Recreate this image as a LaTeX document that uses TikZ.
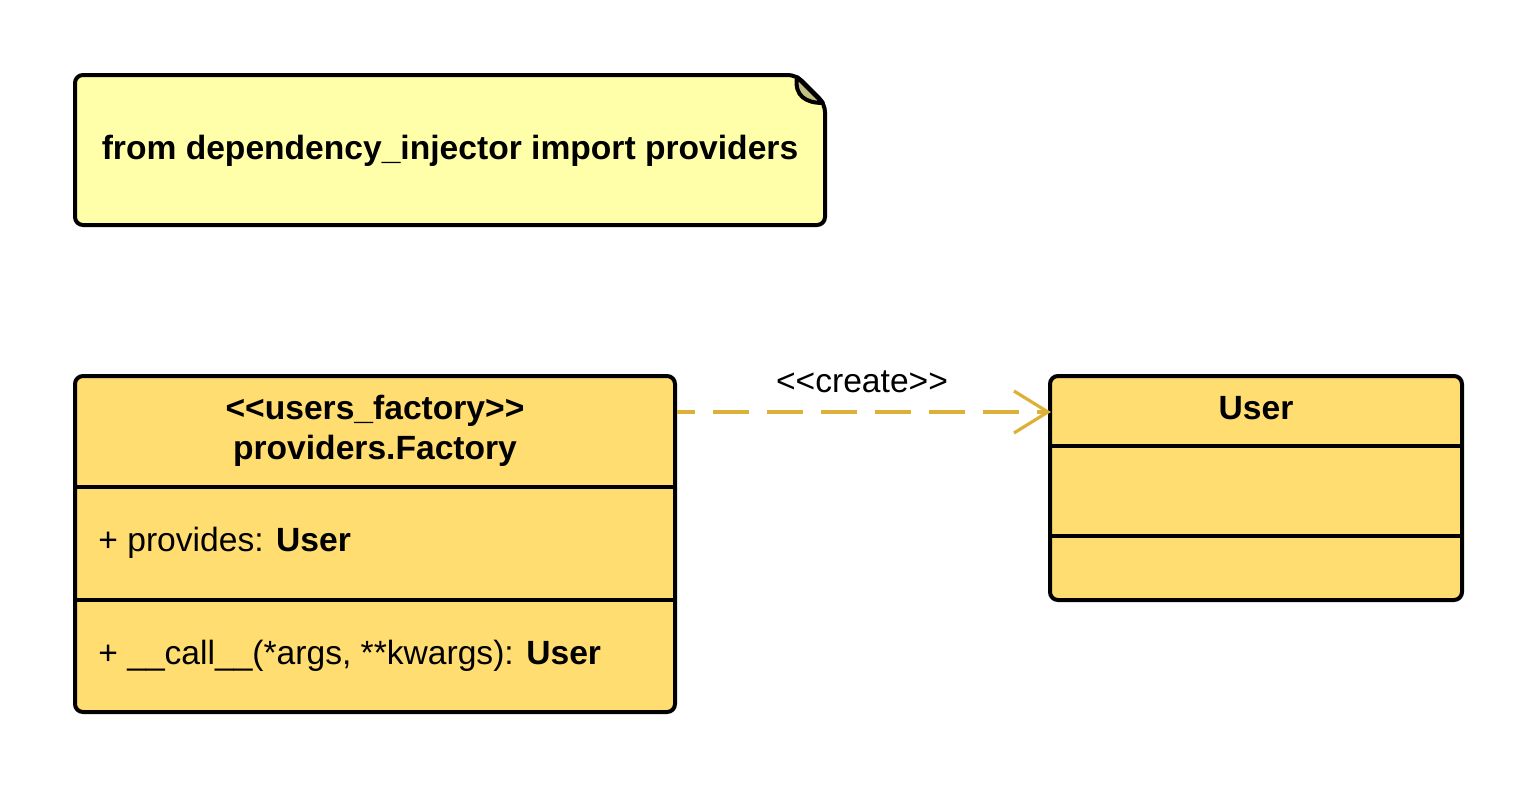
\documentclass[tikz,border=0pt]{standalone}
\usepackage{fontspec}
\setmainfont{Liberation Sans}
\usetikzlibrary{arrows.meta}

\definecolor{notefill}{HTML}{FFFFAA}
\definecolor{classfill}{HTML}{FFDD71}
\definecolor{foldfill}{HTML}{C0C084}
\definecolor{depline}{HTML}{DDB038}

\newcommand\stereoL{<\kern0pt<}
\newcommand\stereoR{>\kern0pt>}

\tikzset{
  classbox/.style={draw,line width=2pt,fill=classfill,rounded corners=4pt,inner sep=0pt},
  txt/.style={font=\fontsize{16.8}{20}\selectfont,inner sep=0pt},
  btxt/.style={font=\fontsize{16.8}{20}\selectfont\bfseries,inner sep=0pt},
  sep/.style={line width=2pt},
}

\begin{document}
\begin{tikzpicture}[x=0.5pt,y=-0.5pt]
  \useasboundingbox (0,0) rectangle (1538,788);

  % note
  \draw[line width=2pt,fill=notefill,rounded corners=4pt]
    (75,75) -- (796,75) -- (825,104) -- (825,225) -- (75,225) -- cycle;
  \draw[line width=2pt,fill=foldfill,line join=round]
    (797,77) .. controls (794,96) and (806,103) .. (823,103) -- cycle;
  \node (note) at (450,159) [btxt,anchor=base]{from dependency\_injector import providers};

  % classes
  \node (factory) at (375,544) [classbox,minimum width=300pt,minimum height=168pt]{};
  \node (user) at (1256,488) [classbox,minimum width=206pt,minimum height=112pt]{};

  \draw[sep] (factory.west |- 0,487) -- (factory.east |- 0,487);
  \draw[sep] (factory.west |- 0,600) -- (factory.east |- 0,600);
  \draw[sep] (user.west |- 0,446) -- (user.east |- 0,446);
  \draw[sep] (user.west |- 0,536) -- (user.east |- 0,536);

  \node (fstereo) at (375,419) [btxt,anchor=base]{\stereoL users\_factory\stereoR};
  \node (fname) at (375,459) [btxt,anchor=base]{providers.Factory};
  \node (fattr) at (98,551) [txt,anchor=base west]{+ provides: \textbf{User}};
  \node (fop) at (98,664) [txt,anchor=base west]{+ \_\_call\_\_(*args, **kwargs): \textbf{User}};
  \node (uname) at (1256,419) [btxt,anchor=base]{User};

  % dependency
  \draw[depline,line width=1.6pt,dash pattern=on 18pt off 9pt,dash phase=9pt,
        -{Straight Barb[length=17pt,width=21pt,line width=1.6pt]}]
    (factory.east |- 0,412) -- ([xshift=1.5pt]user.west |- 0,412);
  \node (create) at (862,392) [txt,anchor=base]{\stereoL create\stereoR};

\end{tikzpicture}
\end{document}
